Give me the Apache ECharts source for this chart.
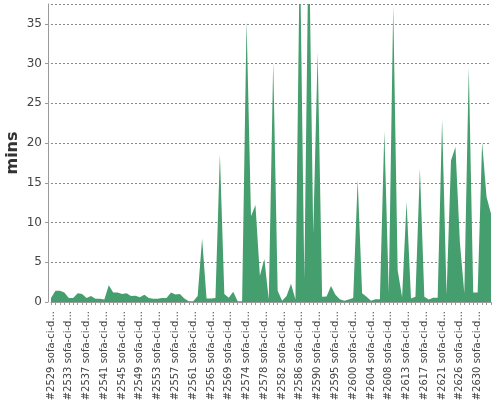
<html>
<head>
    <meta charset="utf-8">
    <title>Build duration</title>
    <script src="https://cdn.jsdelivr.net/npm/echarts@6/dist/echarts.min.js"></script>
    <style>
        html, body { margin: 0; padding: 0; background: #fff; }
    </style>
</head>
<body>

<!-- chart container -->
<div id="main" style="width: 500px;height:400px;"></div>

<script type="text/javascript">

    // build numbers along the x axis
    var buildNumbers = [
        2529, 2530, 2531, 2532, 2533, 2534, 2535, 2536, 2537, 2538,
        2539, 2540, 2541, 2542, 2543, 2544, 2545, 2546, 2547, 2548,
        2549, 2550, 2551, 2552, 2553, 2554, 2555, 2556, 2557, 2558,
        2559, 2560, 2561, 2562, 2563, 2564, 2565, 2566, 2567, 2568,
        2569, 2570, 2571, 2573, 2574, 2575, 2576, 2577, 2578, 2579,
        2580, 2581, 2582, 2583, 2584, 2585, 2586, 2587, 2588, 2589,
        2590, 2591, 2592, 2594, 2595, 2596, 2597, 2599, 2600, 2601,
        2602, 2603, 2604, 2605, 2606, 2607, 2608, 2609, 2610, 2612,
        2613, 2614, 2615, 2616, 2617, 2618, 2619, 2620, 2621, 2622,
        2623, 2625, 2626, 2627, 2628, 2629, 2630, 2631, 2632, 2633
    ];
    var jobName = 'sofa-ci-daily';

    // duration of each build, minutes
    var durations = [
        0.5, 1.4, 1.4, 1.2, 0.5, 0.5, 1.1, 1.0, 0.5, 0.75,
        0.4, 0.4, 0.3, 2.1, 1.2, 1.2, 1.0, 1.1, 0.75, 0.8,
        0.6, 0.9, 0.5, 0.4, 0.4, 0.5, 0.5, 1.2, 0.95, 1.0,
        0.45, 0.1, 0.1, 0.75, 8.0, 0.45, 0.45, 0.5, 18.6, 1.0,
        0.55, 1.3, 0.1, 0.1, 35.4, 10.8, 12.2, 3.3, 5.4, 0.3,
        30.2, 1.4, 0.15, 0.75, 2.3, 0.3, 45, 2.8, 48, 8.6,
        31.4, 0.65, 0.7, 2.0, 0.9, 0.35, 0.15, 0.3, 0.5, 15.4,
        1.1, 0.65, 0.15, 0.35, 0.35, 21.5, 1.1, 37.3, 4.0, 0.6,
        12.6, 0.45, 0.65, 16.8, 0.65, 0.3, 0.55, 0.55, 23.0, 0.9,
        17.8, 19.5, 7.5, 1.1, 29.5, 1.2, 1.2, 20.1, 13.2, 11.1
    ];

    // y axis range
    var yMin = 0;
    var yMax = 37.5;
    var yStep = 5;

    var categories = buildNumbers.map(function (n) {
        return '#' + n + ' ' + jobName;
    });

    var myChart = echarts.init(document.getElementById('main'));

    var font = 'DejaVu Sans';

    var option = {
        animation: false,
        backgroundColor: '#fff',
        grid: {
            left: 51,
            right: 9,
            top: 4,
            bottom: 98,
            containLabel: false,
            outerBoundsMode: 'none'
        },
        xAxis: {
            type: 'category',
            boundaryGap: false,
            data: categories,
            offset: 3,
            axisLine: { lineStyle: { color: '#9a9a9a', width: 1 } },
            axisTick: {
                show: true,
                interval: 0,
                length: 3,
                lineStyle: { color: '#9a9a9a' }
            },
            axisLabel: {
                interval: 3,
                rotate: 90,
                margin: 6,
                fontFamily: font,
                fontSize: 10,
                color: '#444',
                formatter: function (v) {
                    return v.length > 15 ? v.slice(0, 15) + '...' : v;
                }
            },
            splitLine: { show: false }
        },
        yAxis: {
            type: 'value',
            min: yMin,
            max: yMax,
            interval: yStep,
            offset: 3,
            name: 'mins',
            nameLocation: 'middle',
            nameGap: 27,
            nameMoveOverlap: false,
            nameTextStyle: {
                fontFamily: font,
                fontSize: 16,
                fontWeight: 'bold',
                color: '#333'
            },
            axisLine: { show: true, lineStyle: { color: '#9a9a9a', width: 1 } },
            axisTick: { show: true, length: 3, lineStyle: { color: '#9a9a9a' } },
            axisLabel: {
                margin: 6,
                fontFamily: font,
                fontSize: 12,
                color: '#444',
                showMaxLabel: false
            },
            splitLine: {
                show: true,
                lineStyle: { color: '#888', width: 1, type: [2, 2] }
            }
        },
        series: [{
            name: 'mins',
            type: 'line',
            data: durations,
            showSymbol: false,
            clip: true,
            lineStyle: { width: 0 },
            areaStyle: { color: '#459e6d', opacity: 1 }
        }]
    };

    myChart.setOption(option);

</script>
</body>
</html>
